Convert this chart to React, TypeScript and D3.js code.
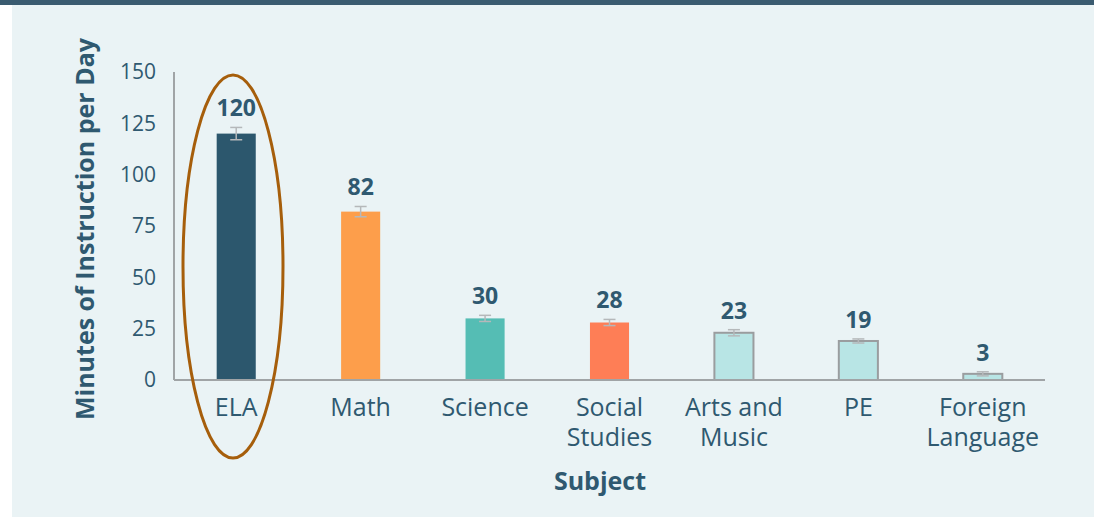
import React from 'react';
import * as d3 from 'd3';

// chart data
const subjects = ['ELA', 'Math', 'Science', 'Social Studies', 'Arts and Music', 'PE', 'Foreign Language'];
const minutes = [120, 82, 30, 28, 23, 19, 3];
const errors = [3, 2.5, 1.5, 1.5, 1.5, 1, 1];
const barColors = ['#2c576d', '#fd9e4b', '#55bdb4', '#fe7e56', '#b8e5e5', '#b8e5e5', '#b8e5e5'];
const yTicks = [0, 25, 50, 75, 100, 125, 150];

const labelLines: Record<string, string[]> = {
  'Social Studies': ['Social', 'Studies'],
  'Arts and Music': ['Arts and', 'Music'],
  'Foreign Language': ['Foreign', 'Language'],
};

const W = 1094;
const H = 517;
const textColor = '#2f5970';

const App = () => {
  const x = d3.scaleBand<string>()
    .domain(subjects)
    .range([174, 1045])
    .paddingInner(0.686)
    .paddingOuter(0.343);

  const y = d3.scaleLinear()
    .domain([0, 150])
    .range([380, 72]);

  const bw = x.bandwidth();

  return (
    <svg width={W} height={H} style={{ position: 'absolute', left: 0, top: 0, fontFamily: '"Open Sans", sans-serif' }}>
      <rect x={0} y={0} width={W} height={H} fill="#ffffff" />
      <rect x={12} y={0} width={W - 12} height={H} fill="#eaf3f5" />
      <rect x={0} y={0} width={W} height={5} fill="#3a5b70" />

      {/* y axis */}
      <line x1={174} x2={174} y1={y(150)} y2={y(0)} stroke="#a0a4a6" strokeWidth={2} />
      {yTicks.map(t => (
        <text key={t} x={156} y={y(t)} dy="0.35em" textAnchor="end" fontSize={21} fill={textColor}>{t}</text>
      ))}
      <text transform={`translate(94, 229) rotate(-90)`} textAnchor="middle" fontSize={25} fontWeight="bold" fill={textColor}>
        Minutes of Instruction per Day
      </text>

      {/* bars */}
      {subjects.map((s, i) => {
        const x0 = x(s) ?? 0;
        const cx = x0 + bw / 2;
        const light = i >= 4;
        return (
          <g key={s}>
            <rect
              x={x0}
              y={y(minutes[i])}
              width={bw}
              height={y(0) - y(minutes[i])}
              fill={barColors[i]}
              stroke={light ? '#9a9d9f' : 'none'}
              strokeWidth={light ? 2 : 0}
            />
            <g stroke="#b5b8ba" strokeWidth={1.5}>
              <line x1={cx} x2={cx} y1={y(minutes[i] + errors[i])} y2={y(minutes[i] - errors[i])} />
              <line x1={cx - 6} x2={cx + 6} y1={y(minutes[i] + errors[i])} y2={y(minutes[i] + errors[i])} />
              <line x1={cx - 6} x2={cx + 6} y1={y(minutes[i] - errors[i])} y2={y(minutes[i] - errors[i])} />
            </g>
            <text x={cx} y={y(minutes[i] + errors[i]) - 11} textAnchor="middle" fontSize={23} fontWeight="bold" fill={textColor}>
              {minutes[i]}
            </text>
            <text x={cx} y={416} textAnchor="middle" fontSize={25} fill={textColor}>
              {(labelLines[s] ?? [s]).map((ln, j) => (
                <tspan key={j} x={cx} dy={j === 0 ? 0 : 30}>{ln}</tspan>
              ))}
            </text>
          </g>
        );
      })}

      {/* x axis */}
      <line x1={174} x2={1045} y1={y(0)} y2={y(0)} stroke="#a0a4a6" strokeWidth={2} />
      <text x={600} y={490} textAnchor="middle" fontSize={25} fontWeight="bold" fill={textColor}>Subject</text>

      {/* highlight */}
      <ellipse cx={233} cy={266.5} rx={50} ry={191.5} fill="none" stroke="#a65e0b" strokeWidth={3} />
    </svg>
  );
};

export default App;
